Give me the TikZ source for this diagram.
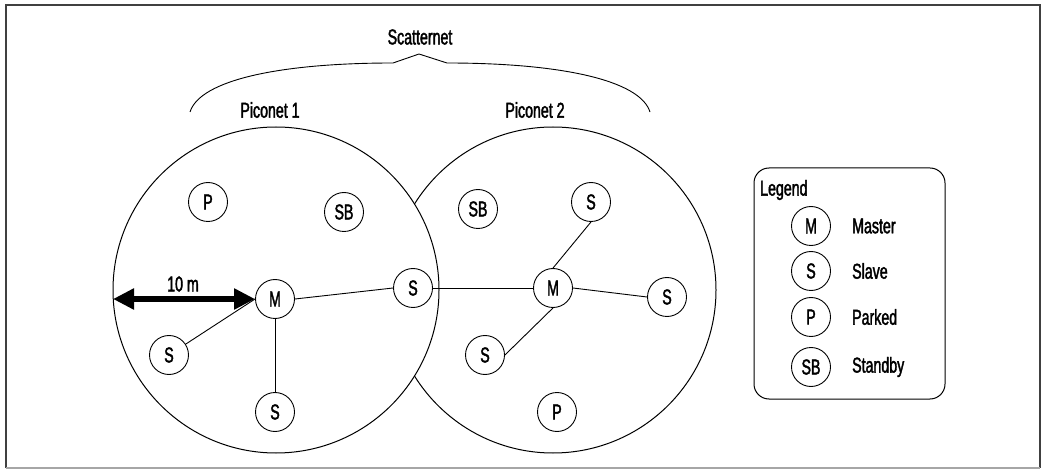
\documentclass[tikz,border=0pt]{standalone}
\usepackage{fontspec}
\setmainfont[FakeStretch=0.66,FakeBold=1.8]{Liberation Sans}
\usetikzlibrary{arrows.meta}
\newcommand\lblfont{\fontsize{21.5}{25}\selectfont}
\tikzset{
  dev/.style={circle, draw, line width=0.9pt, minimum size=39pt, inner sep=0pt, fill=white, font=\lblfont},
  link/.style={line width=0.9pt},
  zone/.style={draw, line width=1pt, fill=white},
  lbl/.style={font=\lblfont, inner sep=1pt},
  bigarrow/.style={line width=5.5pt, {Triangle[length=21pt,width=20pt]}-{Triangle[length=21pt,width=20pt]}}
}
\begin{document}
\begin{tikzpicture}[x=1pt,y=-1pt]
\useasboundingbox (0,0) rectangle (1047,470);
% frame
\draw[black!75, line width=1.5pt] (6,468) -- (6,5) -- (1040,5) -- (1040,468);
\draw[black!35, line width=1.5pt] (6,468) -- (1040,468);
% piconet circles
\path[zone] (553,290) circle (163);
\path[zone] (276,290) circle (163);
% labels
\node[lbl] (scat) at (420,37) {Scatternet};
\node[lbl] (pico1) at (270,110) {Piconet 1};
\node[lbl] (pico2) at (535,110) {Piconet 2};
% brace
\draw[line width=0.9pt] (190,112) .. controls (200,80) and (280,63) .. (393,63) -- (419,54) -- (447,63) .. controls (560,63) and (640,80) .. (650,112);
% piconet 1 devices
\node[dev] (M1) at (275,299) {M};
\node[dev] (P1) at (208,202) {P};
\node[dev] (SB1) at (344,212) {SB};
\node[dev] (SL1) at (169,355) {S};
\node[dev] (SD1) at (275,412) {S};
\node[dev] (SX) at (413,288) {S};
% piconet 2 devices
\node[dev] (M2) at (553,288) {M};
\node[dev] (SB2) at (478,209) {SB};
\node[dev] (ST2) at (591,202) {S};
\node[dev] (SR2) at (667,297) {S};
\node[dev] (SL2) at (485,355) {S};
\node[dev] (P2) at (557,412) {P};
% links
\draw[link] (M1.east) -- (SX.west);
\draw[link] (SL1) -- (M1.west);
\draw[link] (M1.south) -- (SD1.north);
\draw[link] (SX.east) -- (M2.west);
\draw[link] (M2.north) -- (ST2.south);
\draw[link] (M2.east) -- (SR2.west);
\draw[link] (M2.south) -- (SL2.east);
% range arrow
\coordinate (edge1) at (113,299);
\draw[bigarrow] (edge1) -- (M1.west);
\node[lbl] (range) at (183,284) {10 m};
% legend
\node[draw, line width=1pt, rounded corners=15pt, minimum width=191pt, minimum height=231pt, inner sep=0pt] (legend) at (849.5,283.5) {};
\node[lbl, anchor=west] (legtitle) at (759,190) {Legend};
\node[dev] (LM) at (811,226) {M};
\node[dev] (LS) at (811,271) {S};
\node[dev] (LP) at (811,317) {P};
\node[dev] (LSB) at (811,367) {SB};
\node[lbl, anchor=west] (tM) at (851,226) {Master};
\node[lbl, anchor=west] (tS) at (851,271) {Slave};
\node[lbl, anchor=west] (tP) at (851,317) {Parked};
\node[lbl, anchor=west] (tSB) at (851,367) {Standby};
\end{tikzpicture}
\end{document}
